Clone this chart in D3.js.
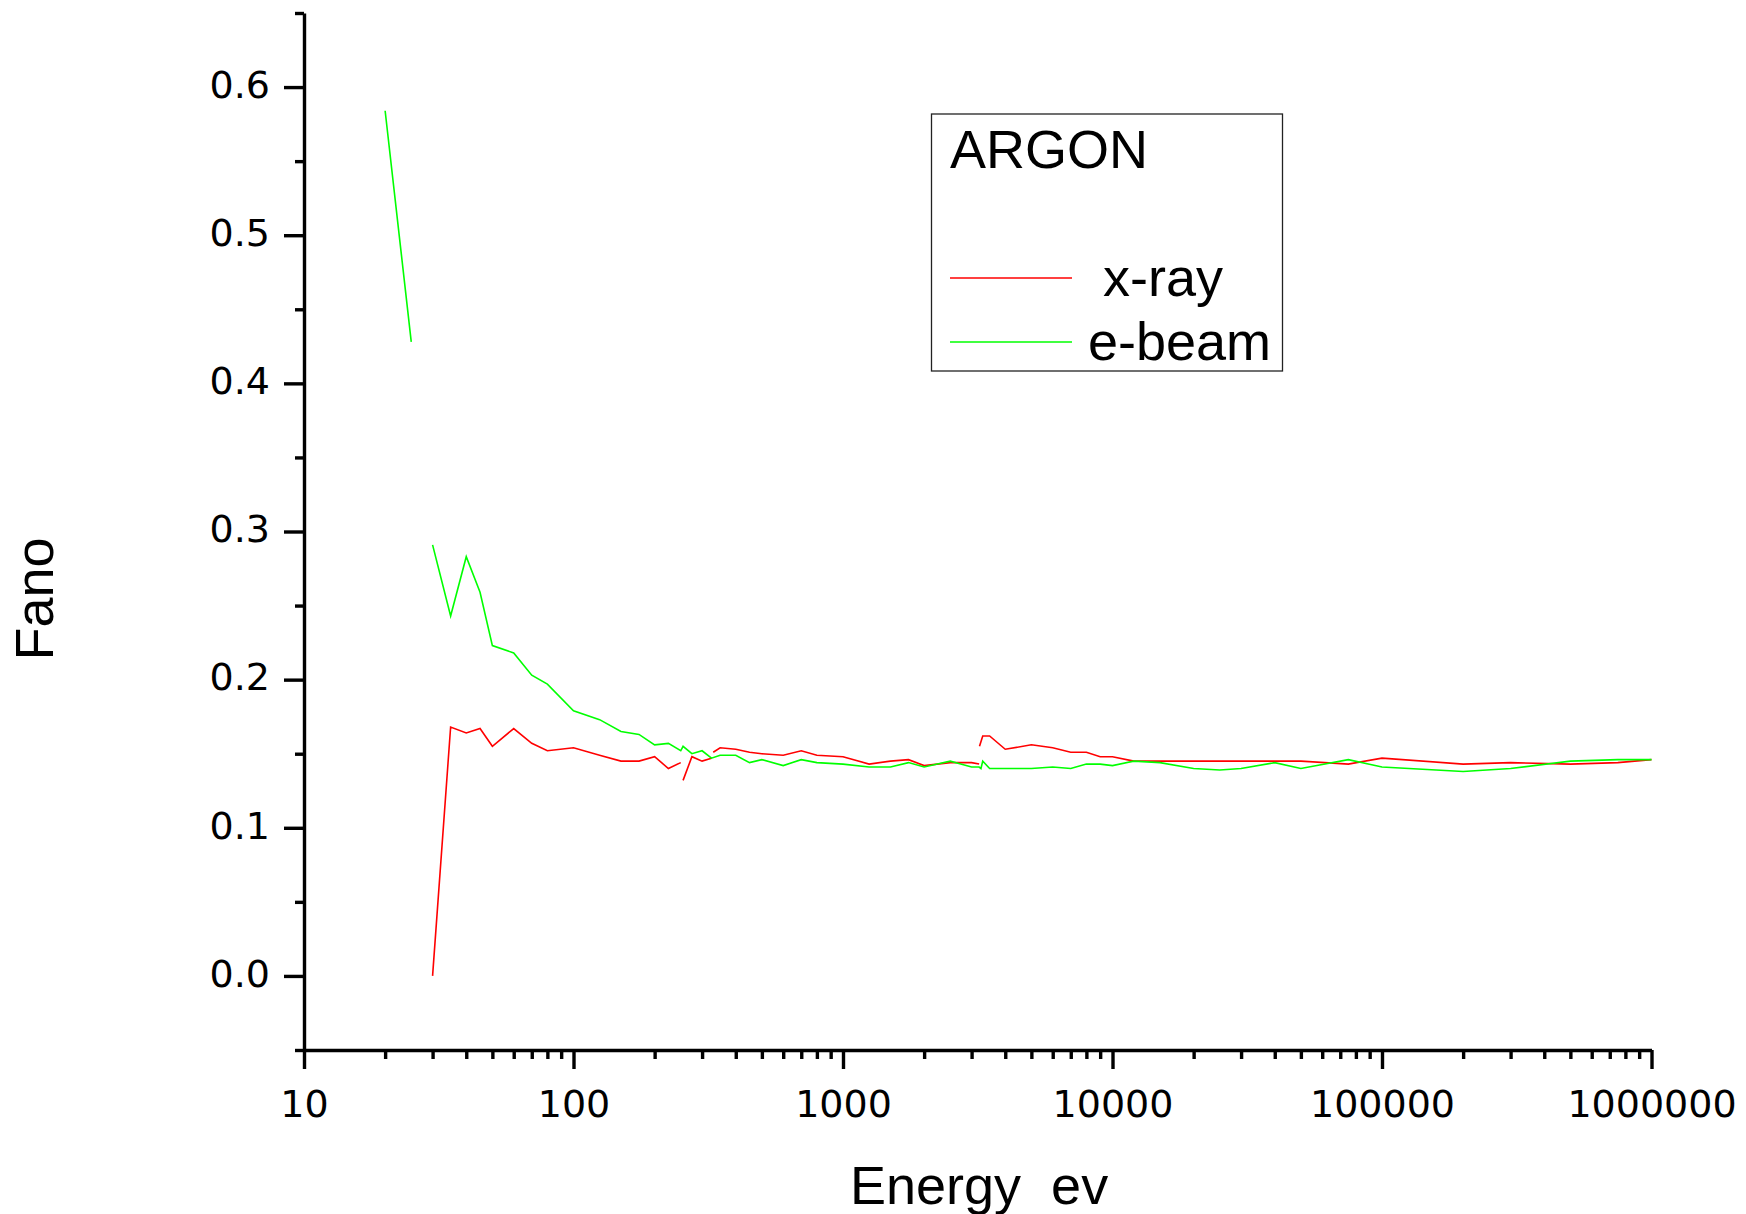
<!DOCTYPE html>
<html>
<head>
<meta charset="utf-8">
<script src="https://cdn.jsdelivr.net/npm/d3@7"></script>
<style>
    body { margin: 0; background: #fff; }
    .axis path, .axis line { stroke: #000; stroke-width: 3.4; }
    .axis text { font-family: "DejaVu Sans", sans-serif; font-size: 38px; fill: #000; }
    .label { font-family: "Liberation Sans", Arial, sans-serif; fill: #000; white-space: pre; }
</style>
</head>
<body>
<div id="fanoGraph"></div>
<script>
// x-ray series (null = break in the line)
let xrayEnergy = [30, 35, 40, 45, 50, 60, 70, 80, 100, 125, 150, 175, 200, 225, 250, 252, 255, 275, 300, 325, 327, 330,
    350, 400, 450, 500, 600, 700, 800, 1000, 1250, 1500, 1750, 2000, 2500, 3000, 3200, 3205, 3210, 3300, 3500,
    4000, 5000, 6000, 7000, 8000, 9000, 10000, 12000, 15000, 25000, 30000, 50000, 75000, 100000,
    200000, 300000, 500000, 750000, 1000000]
let xrayFano = [0.000, 0.168, 0.164, 0.167, 0.155, 0.167, 0.157, 0.152, 0.154, 0.149, 0.145, 0.145, 0.148, 0.140, 0.144, null, 0.132, 0.148,
    0.145, 0.147, null, 0.151, 0.154, 0.153, 0.151, 0.150, 0.149, 0.152, 0.149, 0.148, 0.143, 0.145, 0.146, 0.142, 0.144, 0.144,
    0.143, null, 0.155, 0.162, 0.162, 0.153, 0.156, 0.154, 0.151, 0.151, 0.148, 0.148, 0.145, 0.145, 0.145, 0.145, 0.145,
    0.143, 0.147, 0.143, 0.144, 0.143, 0.144, 0.146]

// e-beam series
let ebeamEnergy = [20, 25, 27, 30, 35, 40, 45, 50, 60, 70, 80, 100, 125, 150, 175, 200, 225, 250, 255, 275, 300, 325, 350,
    400, 450, 500, 600, 700, 800, 1000, 1250, 1500, 1750, 2000, 2500, 3000, 3200, 3250, 3300, 3500, 4000, 5000, 6000,
    7000, 8000, 9000, 10000, 12000, 15000, 20000, 25000, 30000, 40000, 50000, 75000, 100000, 200000, 300000,
    500000, 750000, 1000000]
let ebeamFano = [0.584, 0.428, null, 0.291, 0.243, 0.283, 0.259, 0.223, 0.218, 0.203, 0.197, 0.179, 0.173, 0.165, 0.163, 0.156,
    0.157, 0.152, 0.155, 0.150, 0.152, 0.147, 0.149, 0.149, 0.144, 0.146, 0.142, 0.146, 0.144, 0.143, 0.141, 0.141, 0.144,
    0.141, 0.145, 0.141, 0.141, 0.140, 0.145, 0.140, 0.140, 0.140, 0.141, 0.140, 0.143, 0.143, 0.142, 0.145, 0.144, 0.140,
    0.139, 0.140, 0.144, 0.140, 0.146, 0.141, 0.138, 0.140, 0.145, 0.146, 0.146]

let xMajorTicks = [10, 100, 1000, 10000, 100000, 1000000]
let yMajorTicks = [0.0, 0.1, 0.2, 0.3, 0.4, 0.5, 0.6]
let seriesNames = ["x-ray", "e-beam"]
let seriesColors = ["#ff0000", "#00ff00"]

class FanoVis {
    constructor(parentElement) {
        this.parentElement = parentElement;
        this.initData()
        this.initVis()
    }

    initData() {
        let vis = this;
        vis.series = [
            xrayEnergy.map((e, i) => ({energy: e, fano: xrayFano[i]})),
            ebeamEnergy.map((e, i) => ({energy: e, fano: ebeamFano[i]}))
        ]
    }

    initVis() {
        let vis = this;

        vis.svg = d3.select("#" + vis.parentElement).append("svg")
            .attr("width", 1746)
            .attr("height", 1214);

        // scales
        vis.x = d3.scaleLog().domain([10, 1000000]).range([304, 1651.5]);
        vis.y = d3.scaleLinear().domain([-0.05, 0.65]).range([1050, 13]);

        // minor ticks first, then major axes on top
        let xMinor = []
        for (let d = 10; d < 1000000; d *= 10) {
            for (let k = 2; k <= 9; k++) xMinor.push(d * k)
        }
        vis.svg.append("g")
            .attr("class", "axis")
            .attr("transform", "translate(0,1050)")
            .call(d3.axisBottom(vis.x).tickValues(xMinor).tickSize(9).tickFormat(""))
            .call(g => g.select(".domain").remove());

        vis.svg.append("g")
            .attr("class", "axis")
            .attr("transform", "translate(304,0)")
            .call(d3.axisLeft(vis.y).tickValues(d3.range(-0.05, 0.66, 0.1)).tickSize(9).tickFormat(""))
            .call(g => g.select(".domain").remove());

        vis.svg.append("g")
            .attr("class", "axis axis--x")
            .attr("transform", "translate(0,1050)")
            .call(d3.axisBottom(vis.x).tickValues(xMajorTicks).tickSize(19).tickSizeOuter(0)
                .tickPadding(21).tickFormat(d3.format("d")));

        vis.svg.append("g")
            .attr("class", "axis axis--y")
            .attr("transform", "translate(304,0)")
            .call(d3.axisLeft(vis.y).tickValues(yMajorTicks).tickSize(20).tickSizeOuter(0)
                .tickPadding(14).tickFormat(d3.format(".1f")))
            .call(g => g.selectAll("text").attr("dy", "0.27em"));

        // lines
        vis.line = d3.line()
            .defined(d => d.fano !== null)
            .x(d => vis.x(d.energy))
            .y(d => vis.y(d.fano));

        vis.svg.selectAll(".series")
            .data(vis.series)
            .enter().append("path")
            .attr("class", "series")
            .attr("fill", "none")
            .attr("stroke", (d, i) => seriesColors[i])
            .attr("stroke-width", 1.6)
            .attr("d", d => vis.line(d));

        // axis titles
        vis.svg.append("text")
            .attr("class", "label")
            .attr("transform", "translate(53,599) rotate(-90)")
            .attr("text-anchor", "middle")
            .attr("font-size", 54)
            .text("Fano");

        vis.svg.append("text")
            .attr("class", "label")
            .attr("x", 850)
            .attr("y", 1204)
            .attr("font-size", 54)
            .text("Energy  ev");

        // legend
        let legend = vis.svg.append("g").attr("class", "legend");
        legend.append("rect")
            .attr("x", 931.5).attr("y", 114)
            .attr("width", 351).attr("height", 257)
            .attr("fill", "none")
            .attr("stroke", "#222")
            .attr("stroke-width", 1.3);
        legend.append("text")
            .attr("class", "label")
            .attr("x", 950).attr("y", 168)
            .attr("font-size", 54)
            .text("ARGON");

        let rows = [{y: 278, tx: 1103, ty: 296}, {y: 342, tx: 1088, ty: 360}]
        rows.forEach((r, i) => {
            legend.append("line")
                .attr("x1", 950).attr("x2", 1072)
                .attr("y1", r.y).attr("y2", r.y)
                .attr("stroke", seriesColors[i])
                .attr("stroke-width", 1.4);
            legend.append("text")
                .attr("class", "label")
                .attr("x", r.tx).attr("y", r.ty)
                .attr("font-size", 54)
                .text(seriesNames[i]);
        })
    }
}

let fanoChart = new FanoVis("fanoGraph")
</script>
</body>
</html>
